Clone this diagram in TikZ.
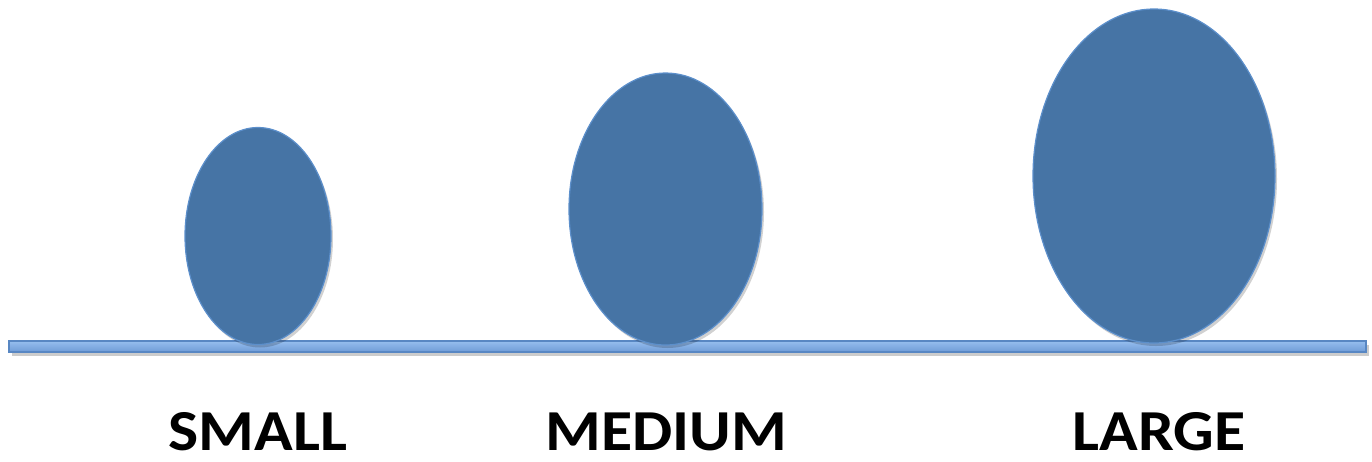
\documentclass[tikz,border=0pt]{standalone}
\usepackage{fontspec}
\setmainfont{Carlito}
\usetikzlibrary{shadows,shapes.geometric}
\definecolor{eggfill}{RGB}{70,116,165}
\definecolor{eggline}{RGB}{92,143,203}
\definecolor{bartop}{RGB}{150,190,238}
\definecolor{barbot}{RGB}{110,155,215}
\definecolor{barline}{RGB}{88,135,195}
\tikzset{
  egg/.style={ellipse, inner sep=0pt, fill=eggfill, draw=eggline, line width=0.6pt,
    drop shadow={shadow xshift=1pt, shadow yshift=-1.5pt, opacity=0.18, fill=black}},
  bar/.style={top color=bartop, bottom color=barbot, draw=barline, line width=0.6pt,
    drop shadow={shadow xshift=1.5pt, shadow yshift=-2pt, opacity=0.2, fill=black}},
  lbl/.style={font=\bfseries\fontsize{29}{30}\selectfont, anchor=base, inner sep=0pt,
    text depth=0pt, xscale=1.1}
}
\begin{document}
\begin{tikzpicture}[x=0.5pt,y=-0.5pt]
\useasboundingbox (0,0) rectangle (1372,461);
\path[bar] (9,341) rectangle (1366,352);
\node[egg, minimum width=73pt, minimum height=108.5pt] (small) at (258,236) {};
\node[egg, minimum width=96.5pt, minimum height=136pt] (medium) at (665.5,209) {};
\node[egg, minimum width=121pt, minimum height=167pt] (large) at (1154,176) {};
\node[lbl] (tsmall) at (258,450) {SMALL};
\node[lbl] (tmedium) at (666,450) {MEDIUM};
\node[lbl] (tlarge) at (1159,450) {LARGE};
\end{tikzpicture}
\end{document}
